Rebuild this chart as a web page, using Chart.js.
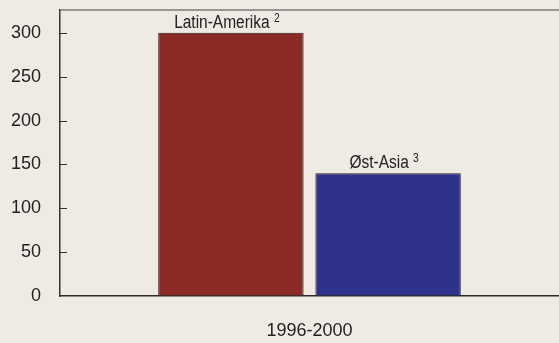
<!DOCTYPE html>
<html>
<head>
<meta charset="utf-8">
<script src="https://cdn.jsdelivr.net/npm/chart.js@4/dist/chart.umd.min.js"></script>
<style>
  html, body { margin: 0; padding: 0; background: #eeebe5; overflow: hidden; }
  #wrap { width: 559px; height: 343px; }
</style>
</head>
<body>
<div id="wrap"><canvas id="myChart"></canvas></div>
<script>
    // data
    const periods = ['1996-2000'];
    const regions = ['Latin-Amerika', 'Øst-Asia'];
    const notes = ['2', '3'];        // fotnote-nummer
    const values = [300, 140];
    const colors = ['#8c2b25', '#2e328b'];
    const yTicks = [0, 50, 100, 150, 200, 250, 300];

    const FONT = '"Liberation Sans", Arial, sans-serif';

    // tekst over hver stolpe, med hevet fotnote (litt smalere skrift)
    const barLabels = {
      id: 'barLabels',
      afterDatasetsDraw(chart) {
        const ctx = chart.ctx;
        const sx = 0.86;
        ctx.save();
        ctx.fillStyle = '#222';
        ctx.textBaseline = 'alphabetic';
        ctx.textAlign = 'left';
        chart.data.datasets.forEach((ds, i) => {
          const bar = chart.getDatasetMeta(i).data[0];
          ctx.font = '18px ' + FONT;
          const w1 = ctx.measureText(ds.label + ' ').width * sx;
          ctx.font = '12px ' + FONT;
          const w2 = ctx.measureText(notes[i]).width * sx;
          const x0 = bar.x - 4 - (w1 + w2) / 2;
          const y0 = bar.y - 5;
          ctx.save();
          ctx.translate(x0, y0);
          ctx.scale(sx, 1);
          ctx.font = '18px ' + FONT;
          ctx.fillText(ds.label + ' ', 0, 0);
          ctx.font = '12px ' + FONT;
          ctx.fillText(notes[i], w1 / sx, -6);
          ctx.restore();
        });
        ctx.restore();
      }
    };

    // ramme oppe og tick-merker innover
    const frame = {
      id: 'frame',
      afterDraw(chart) {
        const {ctx, chartArea} = chart;
        const y = chart.scales.y;
        ctx.save();
        ctx.strokeStyle = '#7a7a7a';
        ctx.lineWidth = 1.5;
        ctx.beginPath();
        ctx.moveTo(chartArea.left, chartArea.top);
        ctx.lineTo(chart.width, chartArea.top);
        ctx.stroke();
        ctx.strokeStyle = '#333';
        ctx.lineWidth = 1;
        yTicks.forEach(v => {
          if (v === 0) return;
          const py = Math.round(y.getPixelForValue(v)) + 0.5;
          ctx.beginPath();
          ctx.moveTo(chartArea.left, py);
          ctx.lineTo(chartArea.left + 7, py);
          ctx.stroke();
        });
        ctx.restore();
      }
    };

    const data = {
      labels: periods,
      datasets: regions.map((r, i) => ({
        label: r,
        data: [values[i]],
        backgroundColor: colors[i],
        borderColor: '#222',
        borderWidth: 1,
        categoryPercentage: 0.63,
        barPercentage: 0.925,
      }))
    };

    const config = {
      type: 'bar',
      data: data,
      options: {
        responsive: true,
        maintainAspectRatio: false,
        animation: false,
        layout: { padding: { top: 10, right: -3, left: 0, bottom: 0 } },
        plugins: {
          legend: { display: false },
          tooltip: { enabled: false }
        },
        scales: {
          x: {
            grid: { drawOnChartArea: false, drawTicks: false },
            border: { color: '#2a2a2a', width: 1.5 },
            ticks: { color: '#222', font: { family: FONT, size: 18 }, padding: 24 },
            afterFit(s) { s.height = 47; s.paddingLeft = 0; s.paddingRight = 0; }
          },
          y: {
            min: 0,
            max: 326,
            grid: { drawOnChartArea: false, drawTicks: false },
            border: { color: '#333', width: 1.5 },
            afterBuildTicks(s) { s.ticks = yTicks.map(v => ({ value: v })); },
            ticks: { color: '#222', font: { family: FONT, size: 18 }, padding: 19 },
            afterFit(s) { s.width = 60; s.paddingTop = 0; s.paddingBottom = 0; }
          }
        }
      },
      plugins: [barLabels, frame]
    };

    const myChart = new Chart(document.getElementById('myChart'), config);
</script>
</body>
</html>
